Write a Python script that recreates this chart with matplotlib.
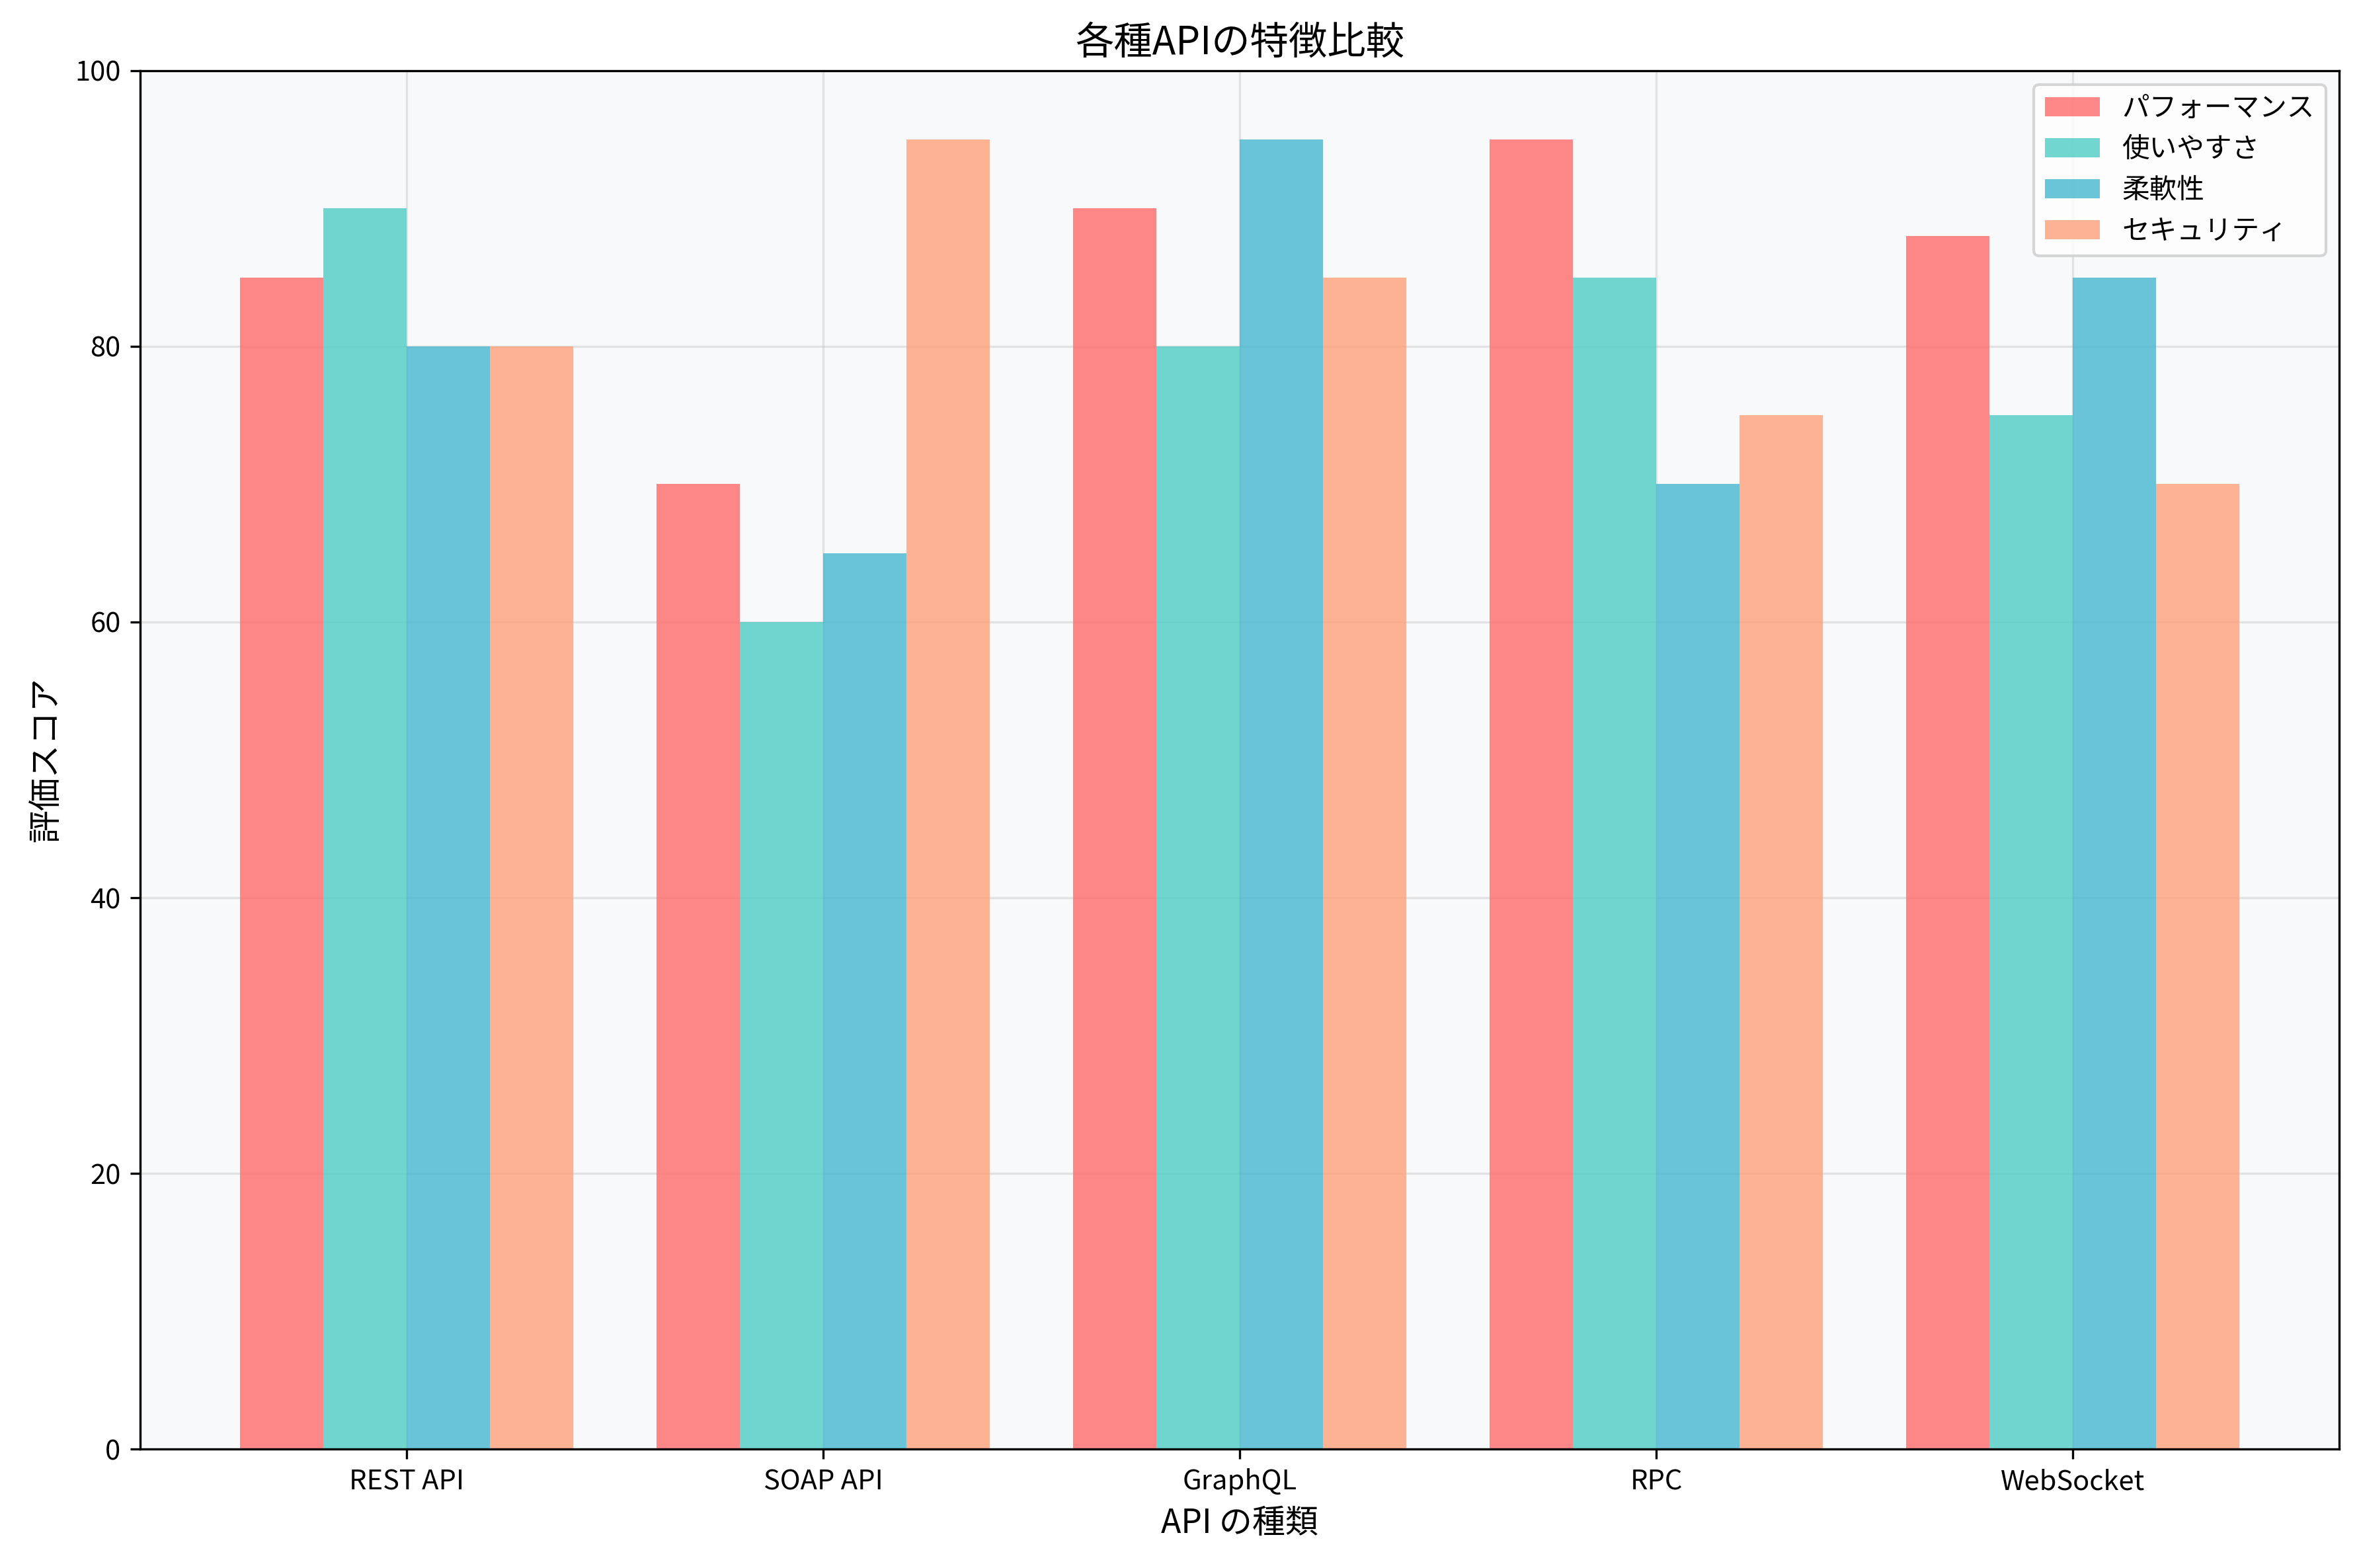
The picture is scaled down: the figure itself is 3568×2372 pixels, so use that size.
"""Grouped bar chart comparing API characteristics."""

import matplotlib
matplotlib.use("Agg")
import matplotlib.pyplot as plt
import numpy as np

plt.rcParams["font.family"] = ["Noto Sans CJK JP", "DejaVu Sans"]

CATEGORIES = ["REST API", "SOAP API", "GraphQL", "RPC", "WebSocket"]
SERIES_NAMES = ["パフォーマンス", "使いやすさ", "柔軟性", "セキュリティ"]
PERFORMANCE = [85, 70, 90, 95, 88]
USABILITY = [90, 60, 80, 85, 75]
FLEXIBILITY = [80, 65, 95, 70, 85]
SECURITY = [80, 95, 85, 75, 70]
COLORS = ["#FF6B6B", "#4ECDC4", "#45B7D1", "#FFA07A"]


def main() -> None:
    fig = plt.figure(figsize=(3568 / 300, 2372 / 300), dpi=300)
    ax = fig.add_axes([0.0593, 0.0758, 0.9324, 0.8792])
    ax.set_facecolor("#f8f9fa")

    x = np.arange(len(CATEGORIES))
    width = 0.2
    series = [PERFORMANCE, USABILITY, FLEXIBILITY, SECURITY]
    for i, (name, values) in enumerate(zip(SERIES_NAMES, series)):
        ax.bar(x + (i - 1.5) * width, values, width, label=name,
               color=COLORS[i], alpha=0.8)

    ax.set_title("各種APIの特徴比較", fontsize=14)
    ax.set_xlabel("API の種類", fontsize=12)
    ax.set_ylabel("評価スコア", fontsize=12)
    ax.set_xticks(x)
    ax.set_xticklabels(CATEGORIES)
    ax.set_ylim(0, 100)
    ax.grid(True, alpha=0.3)
    ax.set_axisbelow(True)
    ax.legend(loc="upper right")

    fig.savefig("out.png", dpi=300)
    plt.close(fig)


if __name__ == "__main__":
    main()
